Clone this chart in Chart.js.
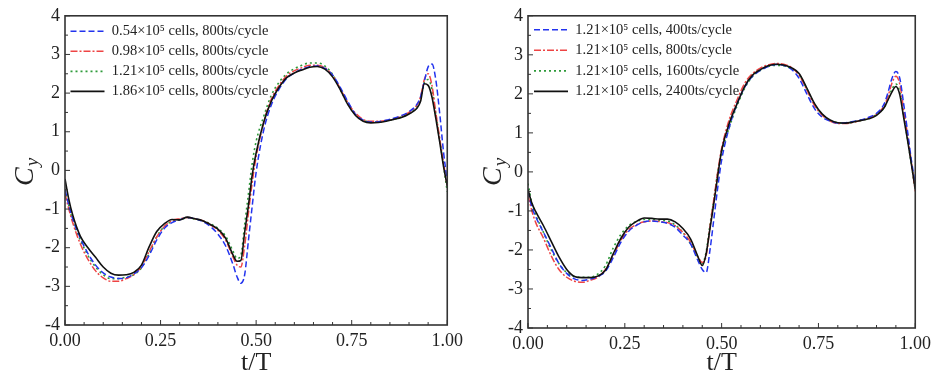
<!DOCTYPE html>
<html lang="en">
<head>
<meta charset="UTF-8">
<title>Cy over one cycle: grid and time step study</title>
<script src="https://cdn.jsdelivr.net/npm/chart.js@4.4.1/dist/chart.umd.min.js"></script>
<style>
  body { margin: 0; background: #fff; }
  .row { display: flex; width: 936px; height: 376px; }
  canvas { display: block; }
</style>
</head>
<body>
<div class="row">
  <canvas id="gridChart" width="468" height="376"></canvas>
  <canvas id="stepChart" width="468" height="376"></canvas>
</div>
<script>
// sample times t/T shared by every curve
const tGrid = [0, 0.01, 0.02, 0.04, 0.06, 0.08, 0.10, 0.12, 0.14, 0.16, 0.18, 0.20, 0.22, 0.24, 0.26, 0.28,
  0.30, 0.32, 0.34, 0.36, 0.38, 0.40, 0.42, 0.44, 0.45, 0.46, 0.47, 0.48, 0.49, 0.50, 0.52, 0.54, 0.56, 0.58,
  0.60, 0.62, 0.64, 0.66, 0.68, 0.70, 0.72, 0.74, 0.76, 0.78, 0.80, 0.82, 0.84, 0.86, 0.88, 0.90, 0.92, 0.93,
  0.94, 0.95, 0.96, 0.97, 0.98, 0.99, 1.00];

// left panel: grid refinement, 800 ts/cycle
const gridLabels = ['0.54×10⁵ cells, 800ts/cycle', '0.98×10⁵ cells, 800ts/cycle',
  '1.21×10⁵ cells, 800ts/cycle', '1.86×10⁵ cells, 800ts/cycle'];
const cy054 = [-0.5, -0.9, -1.25, -1.75, -2.15, -2.45, -2.65, -2.76, -2.80, -2.78, -2.68, -2.52, -2.20, -1.80, -1.50, -1.35,
  -1.28, -1.22, -1.25, -1.32, -1.45, -1.65, -1.95, -2.45, -2.75, -2.92, -2.70, -1.80, -0.90, -0.05, 1.05, 1.70, 2.10, 2.38,
  2.52, 2.62, 2.68, 2.70, 2.64, 2.47, 2.15, 1.78, 1.45, 1.30, 1.25, 1.26, 1.30, 1.35, 1.42, 1.52, 1.70, 1.90,
  2.30, 2.68, 2.75, 2.35, 1.50, 0.50, -0.30];
const cy098 = [-0.6, -1.0, -1.35, -1.90, -2.30, -2.60, -2.78, -2.87, -2.87, -2.80, -2.70, -2.48, -2.10, -1.72, -1.45, -1.30,
  -1.25, -1.22, -1.25, -1.30, -1.40, -1.55, -1.80, -2.25, -2.45, -2.50, -1.95, -1.10, -0.30, 0.35, 1.25, 1.85, 2.20, 2.45,
  2.58, 2.66, 2.72, 2.72, 2.66, 2.46, 2.12, 1.75, 1.48, 1.32, 1.27, 1.27, 1.29, 1.33, 1.40, 1.50, 1.68, 1.90,
  2.35, 2.50, 2.20, 1.50, 0.85, 0.20, -0.40];
const cy121 = [-0.5, -0.9, -1.3, -1.80, -2.20, -2.50, -2.70, -2.80, -2.80, -2.76, -2.70, -2.52, -2.15, -1.72, -1.45, -1.32,
  -1.27, -1.23, -1.26, -1.30, -1.38, -1.50, -1.70, -2.10, -2.28, -2.20, -1.40, -0.60, 0.20, 0.75, 1.40, 1.95, 2.28, 2.50,
  2.63, 2.72, 2.78, 2.78, 2.70, 2.48, 2.10, 1.72, 1.45, 1.30, 1.25, 1.25, 1.28, 1.32, 1.38, 1.48, 1.65, 1.85,
  2.28, 2.35, 2.10, 1.45, 0.80, 0.15, -0.55];
const cy186 = [-0.22, -0.75, -1.15, -1.70, -2.00, -2.25, -2.50, -2.66, -2.71, -2.70, -2.64, -2.45, -1.98, -1.58, -1.38, -1.27,
  -1.28, -1.21, -1.25, -1.30, -1.40, -1.52, -1.75, -2.20, -2.35, -2.33, -1.60, -0.90, -0.10, 0.45, 1.25, 1.80, 2.15, 2.40,
  2.52, 2.60, 2.67, 2.69, 2.62, 2.42, 2.09, 1.70, 1.42, 1.27, 1.23, 1.24, 1.27, 1.32, 1.37, 1.46, 1.60, 1.78,
  2.24, 2.20, 1.90, 1.35, 0.75, 0.12, -0.40];

// right panel: time step refinement, 1.21e5 cells
const stepLabels = ['1.21×10⁵ cells, 400ts/cycle', '1.21×10⁵ cells, 800ts/cycle',
  '1.21×10⁵ cells, 1600ts/cycle', '1.21×10⁵ cells, 2400ts/cycle'];
const cy400 = [-0.5, -0.9, -1.15, -1.55, -1.95, -2.35, -2.60, -2.74, -2.78, -2.75, -2.68, -2.55, -2.20, -1.80, -1.52, -1.37,
  -1.28, -1.26, -1.28, -1.32, -1.42, -1.62, -1.85, -2.30, -2.50, -2.58, -2.00, -1.20, -0.40, 0.30, 1.15, 1.75, 2.18, 2.45,
  2.60, 2.70, 2.75, 2.73, 2.63, 2.40, 2.00, 1.62, 1.40, 1.30, 1.25, 1.26, 1.29, 1.33, 1.40, 1.50, 1.75, 2.05,
  2.40, 2.57, 2.40, 1.75, 1.05, 0.30, -0.30];
const cy800 = [-0.6, -1.0, -1.30, -1.70, -2.15, -2.50, -2.70, -2.80, -2.83, -2.78, -2.70, -2.50, -2.15, -1.75, -1.48, -1.35,
  -1.28, -1.26, -1.27, -1.30, -1.38, -1.55, -1.80, -2.20, -2.32, -2.15, -1.40, -0.70, 0.00, 0.60, 1.35, 1.85, 2.28, 2.52,
  2.66, 2.74, 2.78, 2.76, 2.68, 2.48, 2.10, 1.70, 1.45, 1.30, 1.24, 1.24, 1.27, 1.32, 1.38, 1.48, 1.70, 1.95,
  2.28, 2.45, 2.25, 1.60, 0.95, 0.25, -0.50];
const cy1600 = [-0.3, -0.8, -1.10, -1.55, -2.00, -2.35, -2.58, -2.68, -2.70, -2.70, -2.62, -2.40, -1.95, -1.60, -1.38, -1.27,
  -1.22, -1.22, -1.24, -1.26, -1.36, -1.55, -1.85, -2.20, -2.35, -2.05, -1.35, -0.70, 0.00, 0.50, 1.15, 1.70, 2.15, 2.45,
  2.60, 2.70, 2.73, 2.72, 2.65, 2.50, 2.12, 1.73, 1.47, 1.32, 1.26, 1.25, 1.28, 1.32, 1.37, 1.47, 1.65, 1.88,
  2.12, 2.25, 2.05, 1.45, 0.85, 0.20, -0.45];
const cy2400 = [-0.45, -0.80, -1.02, -1.38, -1.78, -2.18, -2.50, -2.68, -2.71, -2.71, -2.67, -2.52, -2.10, -1.70, -1.42, -1.27,
  -1.18, -1.19, -1.21, -1.21, -1.28, -1.45, -1.72, -2.20, -2.40, -2.10, -1.45, -0.80, -0.10, 0.55, 1.25, 1.75, 2.20, 2.48,
  2.62, 2.72, 2.76, 2.74, 2.67, 2.52, 2.15, 1.75, 1.48, 1.33, 1.26, 1.25, 1.28, 1.32, 1.36, 1.45, 1.65, 1.85,
  2.05, 2.19, 1.98, 1.40, 0.82, 0.20, -0.45];

// blue dashed, red dash-dot, green dotted, black solid
const lineStyles = [
  { color: '#2233ee', dash: [6, 3], width: 1.5, order: 1 },
  { color: '#ee4444', dash: [7, 2, 2, 2], width: 1.5, order: 2 },
  { color: '#2e9a3a', dash: [2, 3], width: 1.6, order: 3 },
  { color: '#111111', dash: [], width: 1.6, order: 0 }
];

const serif = 'Liberation Serif';

// frame, inward ticks and the C_y axis title
const frameTicks = {
  id: 'frameTicks',
  afterDraw(chart) {
    const { ctx, chartArea: a, scales: { x, y } } = chart;
    ctx.save();
    ctx.strokeStyle = '#333';
    ctx.lineWidth = 1;
    ctx.beginPath();
    for (let k = 0; k <= 20; k++) {
      const px = x.getPixelForValue(k * 0.05);
      const len = k % 5 === 0 ? 5 : 3;
      ctx.moveTo(px, a.bottom);
      ctx.lineTo(px, a.bottom - len);
    }
    for (let k = -8; k <= 8; k++) {
      const py = y.getPixelForValue(k * 0.5);
      const len = k % 2 === 0 ? 5 : 3;
      ctx.moveTo(a.left, py);
      ctx.lineTo(a.left + len, py);
    }
    ctx.stroke();
    ctx.lineWidth = 1.6;
    ctx.strokeRect(a.left, a.top, a.right - a.left, a.bottom - a.top);

    ctx.translate(33, 186);
    ctx.rotate(-Math.PI / 2);
    ctx.fillStyle = '#222';
    ctx.textBaseline = 'alphabetic';
    ctx.font = 'italic 28px "' + serif + '"';
    ctx.fillText('C', 0, 0);
    const w = ctx.measureText('C').width;
    ctx.font = 'italic 19px "' + serif + '"';
    ctx.fillText('y', w + 1, 5);
    ctx.restore();
  }
};

// legend in dataset order, with each line's own dash pattern
function legendItems(chart) {
  const items = Chart.defaults.plugins.legend.labels.generateLabels(chart);
  items.forEach(it => {
    const ds = chart.data.datasets[it.datasetIndex];
    it.lineDash = ds.borderDash;
    it.lineWidth = ds.borderWidth;
    it.strokeStyle = ds.borderColor;
  });
  return items.sort((a, b) => a.datasetIndex - b.datasetIndex);
}

function makePanel(id, labels, series, geo) {
  const datasets = series.map((vals, i) => ({
    label: labels[i],
    data: tGrid.map((t, j) => ({ x: t, y: vals[j] })),
    borderColor: lineStyles[i].color,
    backgroundColor: lineStyles[i].color,
    borderDash: lineStyles[i].dash,
    borderWidth: lineStyles[i].width,
    order: lineStyles[i].order,
    pointRadius: 0,
    fill: false,
    cubicInterpolationMode: 'monotone'
  }));

  new Chart(document.getElementById(id), {
    type: 'line',
    data: { datasets },
    options: {
      responsive: false,
      animation: false,
      devicePixelRatio: 1,
      layout: { padding: { top: 14, right: geo.right, left: 0, bottom: 0 } },
      plugins: {
        tooltip: { enabled: false },
        legend: {
          position: 'chartArea',
          align: 'start',
          title: { display: true, text: ' ', font: { size: 3 }, padding: { top: geo.legendTop, bottom: 0 } },
          labels: {
            usePointStyle: true,
            pointStyle: 'line',
            pointStyleWidth: 34,
            boxHeight: 14,
            padding: geo.legendGap,
            color: '#222',
            font: { family: serif, size: 14.5 },
            generateLabels: legendItems
          }
        }
      },
      scales: {
        x: {
          type: 'linear',
          min: 0,
          max: 1,
          grid: { display: false, drawTicks: false },
          border: { display: false },
          ticks: {
            stepSize: 0.25,
            padding: 5,
            color: '#222',
            font: { family: serif, size: 18 },
            callback: v => v.toFixed(2)
          },
          title: {
            display: true,
            text: 't/T',
            color: '#222',
            font: { family: serif, size: 26, lineHeight: 1 },
            padding: { top: 0, bottom: 0 }
          },
          afterFit(s) { s.height = geo.xHeight; }
        },
        y: {
          min: -4,
          max: 4,
          grid: { display: false, drawTicks: false },
          border: { display: false },
          ticks: {
            stepSize: 1,
            padding: 5,
            color: '#222',
            font: { family: serif, size: 18 }
          },
          afterFit(s) { s.width = geo.yWidth; }
        }
      }
    },
    plugins: [frameTicks]
  });
}

makePanel('gridChart', gridLabels, [cy054, cy098, cy121, cy186],
  { right: 16, xHeight: 51, yWidth: 65, legendGap: 5.5, legendTop: 15 });
makePanel('stepChart', stepLabels, [cy400, cy800, cy1600, cy2400],
  { right: 18, xHeight: 48, yWidth: 60, legendGap: 6, legendTop: 13 });
</script>
</body>
</html>
